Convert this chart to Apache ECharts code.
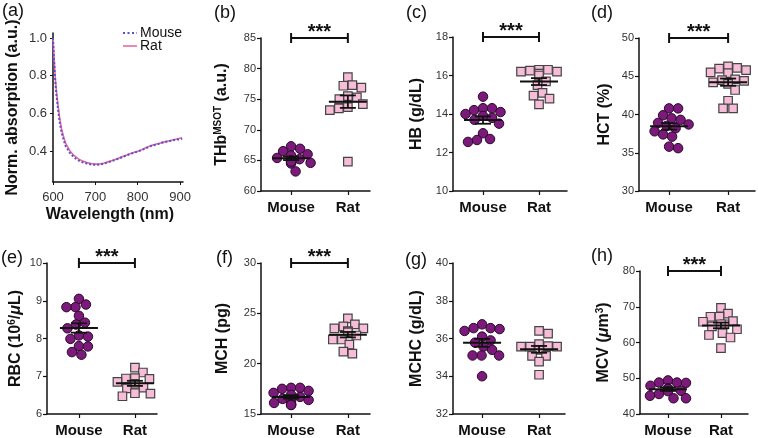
<!DOCTYPE html>
<html><head><meta charset="utf-8">
<script src="https://cdn.jsdelivr.net/npm/echarts@6/dist/echarts.min.js"></script>
<style>html,body{margin:0;padding:0;background:#fff}#c{width:758px;height:438px}</style>
</head><body><div id="c"></div>
<script>
// ---------- DATA ----------
const groups = ['Mouse', 'Rat'];
const wavelengths = [600,602,605,608,612,616,620,625,630,640,650,660,670,680,690,700,710,720,730,740,750,760,770,780,790,800,810,820,830,840,850,860,870,880,890,900,905];
const absMouse = [1.0,0.9,0.78,0.70,0.62,0.55,0.50,0.46,0.425,0.39,0.365,0.35,0.34,0.333,0.328,0.326,0.328,0.333,0.34,0.347,0.355,0.364,0.373,0.382,0.39,0.397,0.405,0.415,0.425,0.432,0.438,0.445,0.45,0.455,0.46,0.462,0.465];
const absRat = [1.0,0.92,0.80,0.72,0.64,0.57,0.52,0.475,0.44,0.40,0.375,0.358,0.346,0.338,0.333,0.33,0.331,0.335,0.342,0.349,0.357,0.366,0.375,0.384,0.392,0.399,0.407,0.418,0.427,0.434,0.44,0.447,0.452,0.457,0.462,0.468,0.47];

const thbMouse = [67.3,66.9,66.5,66.0,65.8,65.4,65.2,65.0,64.9,64.7,64.5,64.8,64.6,63.2];
const thbRat = [78.6,77.3,77.2,76.9,75.5,75.3,75.0,74.2,73.7,73.5,73.2,64.8];
const hbMouse = [14.9,14.3,14.3,14.2,14.1,14.0,13.9,13.8,13.7,13.5,13.0,12.7,12.65,12.55];
const hbRat = [16.3,16.25,16.2,16.2,16.3,16.1,16.0,15.7,15.5,15.1,14.95,14.8,14.5];
const hctMouse = [40.8,40.8,39.9,39.5,39.3,38.9,38.7,38.5,38.2,37.8,37.4,37.1,35.8,35.6];
const hctRat = [46.3,46.1,46.0,45.8,45.5,45.4,44.6,44.5,44.4,44.2,44.0,43.2,41.8,40.8,40.8];
const rbcMouse = [9.05,8.9,8.83,8.83,8.6,8.42,8.37,8.27,8.08,8.05,7.99,7.8,7.79,7.64,7.57];
const rbcRat = [7.23,7.1,6.95,6.94,6.93,6.85,6.8,6.7,6.68,6.55,6.54,6.47];
const mchMouse = [17.6,17.5,17.6,17.3,17.1,16.9,16.7,16.5,16.4,16.3,16.1,16.0,15.9,15.9];
const mchRat = [24.5,23.9,23.7,23.5,23.5,23.2,23.2,23.1,22.8,22.4,22.4,21.9,21.2,21.0];
const mchcMouse = [36.75,36.55,36.55,36.5,36.4,36.1,35.9,35.78,35.57,35.4,35.1,35.1,35.1,34.0];
const mchcRat = [36.4,36.26,35.7,35.6,35.57,35.57,35.57,35.4,35.08,35.08,34.78,34.08];
const mcvMouse = [49.4,48.8,48.8,48.7,47.9,47.2,47.0,46.5,46.4,45.6,45.1,44.4,44.4];
const mcvRat = [69.7,68.1,67.2,67.2,66.0,65.8,65.1,65.1,64.5,63.7,62.6,62.1,61.4,58.4];

const absTicks = [0.4, 0.6, 0.8, 1.0];
const wlTicks = [600, 700, 800, 900];

// ---------- LAYOUT / STYLE ----------
const FONT = '"Liberation Sans", Arial, sans-serif';
const BLACK = '#111';
const MOUSE_C = '#7b1a7b', RAT_C = '#f7bcd8';
const MOUSE_LINE = '#5a4fcf', RAT_LINE = '#e8679f';
const nameRich = {
  a: {fontSize: 16, fontWeight: 'bold', fontFamily: FONT, color: BLACK},
  i: {fontSize: 16, fontWeight: 'bold', fontStyle: 'italic', fontFamily: FONT, color: BLACK},
  s: {fontSize: 10, fontWeight: 'bold', fontFamily: FONT, color: BLACK, verticalAlign: 'top', padding: [0,0,8,0]}
};
const panels = [
  {mouse: thbMouse, rat: thbRat, grid:{left:261, top:38, width:109, height:153}, xr:[0.47,2.39], yr:[60,85,5], name:'{a|THb}{s|MSOT}{a| (a.u.)}', gap:30, sig:true},
  {mouse: hbMouse, rat: hbRat, grid:{left:453, top:37, width:114, height:154}, xr:[0.464,2.5], yr:[10,18,2], name:'{a|HB (g/dL)}', gap:28, sig:true},
  {mouse: hctMouse, rat: hctRat, grid:{left:639, top:38, width:116, height:153}, xr:[0.49,2.456], yr:[30,50,5], name:'{a|HCT (%)}', gap:26, sig:true},
  {mouse: rbcMouse, rat: rbcRat, grid:{left:47, top:263, width:110, height:152}, xr:[0.43,2.394], yr:[6,10,1], name:'{a|RBC (10}{s|6}{a|/}{i|μ}{a|L)}', gap:22, sig:true},
  {mouse: mchMouse, rat: mchRat, grid:{left:261, top:263, width:109, height:152}, xr:[0.47,2.39], yr:[15,30,5], name:'{a|MCH (pg)}', gap:30, sig:true},
  {mouse: mchcMouse, rat: mchcRat, grid:{left:453, top:263, width:112, height:151}, xr:[0.49,2.455], yr:[32,40,2], name:'{a|MCHC (g/dL)}', gap:28, sig:false},
  {mouse: mcvMouse, rat: mcvRat, grid:{left:640, top:271, width:108, height:145}, xr:[0.472,2.51], yr:[40,80,10], name:'{a|MCV (}{i|μ}{a|m}{s|3}{a|)}', gap:27, sig:true}
];
const labelPos = {'(a)':[2,2], '(b)':[214,4], '(c)':[406,4], '(d)':[591,4], '(e)':[1,249], '(f)':[216,249], '(g)':[405,251], '(h)':[591,247]};

function mean(a){return a.reduce((s,v)=>s+v,0)/a.length;}
function sem(a){const m=mean(a);return Math.sqrt(a.reduce((s,v)=>s+(v-m)*(v-m),0)/(a.length-1))/Math.sqrt(a.length);}

const axisLineStyle = {show:true, lineStyle:{color:BLACK, width:1.5}};
const tickLabel = {color:'#333', fontSize:11, fontFamily:FONT};

const grid = [{left:53, top:33, width:130, height:149}];
const xAxis = [{
  type:'value', gridIndex:0, min:600, max:907,
  axisLine:axisLineStyle, splitLine:{show:false},
  axisTick:{show:true, customValues:wlTicks, length:3, lineStyle:{color:BLACK}},
  axisLabel:{customValues:wlTicks, margin:9, color:'#333', fontFamily:FONT, fontSize:13},
  name:'Wavelength (nm)', nameLocation:'middle', nameGap:25,
  nameTextStyle:{fontSize:16, fontWeight:'bold', fontFamily:FONT, color:BLACK, padding:[0,16,0,0]}
}];
const yAxis = [{
  type:'value', gridIndex:0, min:0.235, max:1.027,
  axisLine:axisLineStyle, splitLine:{show:false},
  axisTick:{show:true, customValues:absTicks, length:3, lineStyle:{color:BLACK}},
  axisLabel:{customValues:absTicks, formatter:v=>v.toFixed(1), margin:6, color:'#333', fontSize:13, fontFamily:FONT},
  name:'Norm. absorption (a.u.)', nameLocation:'middle', nameGap:32,
  nameTextStyle:{fontSize:16, fontWeight:'bold', fontFamily:FONT, color:BLACK}
}];
const series = [
  {type:'line', name:'Rat', xAxisIndex:0, yAxisIndex:0, symbol:'none', data:wavelengths.map((w,i)=>[w,absRat[i]]), lineStyle:{color:RAT_LINE, width:1.6}, itemStyle:{color:RAT_LINE}, z:2},
  {type:'line', name:'Mouse', xAxisIndex:0, yAxisIndex:0, symbol:'none', data:wavelengths.map((w,i)=>[w,absMouse[i]]), lineStyle:{color:MOUSE_LINE, width:2, type:'dotted'}, itemStyle:{color:MOUSE_LINE}, z:3}
];

panels.forEach((p, k) => {
  const gi = k + 1;
  grid.push(p.grid);
  xAxis.push({
    type:'value', gridIndex:gi, min:p.xr[0], max:p.xr[1],
    axisLine:axisLineStyle, splitLine:{show:false},
    axisTick:{show:true, customValues:[1,2], length:4, lineStyle:{color:BLACK, width:1.2}},
    axisLabel:{customValues:[1,2], formatter:v=>groups[Math.round(v)-1], margin:9, color:BLACK, fontSize:15, fontWeight:'bold', fontFamily:FONT}
  });
  yAxis.push({
    type:'value', gridIndex:gi, min:p.yr[0], max:p.yr[1], interval:p.yr[2],
    axisLine:axisLineStyle, splitLine:{show:false},
    axisTick:{show:true, length:4, lineStyle:{color:BLACK, width:1.2}},
    axisLabel:Object.assign({margin:5}, tickLabel),
    name:p.name, nameLocation:'middle', nameGap:p.gap,
    nameTextStyle:{rich:nameRich}
  });
  series.push({type:'scatter', xAxisIndex:gi, yAxisIndex:gi, symbol:'circle', symbolSize:9.5,
    data:p.mouse.map(v=>[1,v]), itemStyle:{color:MOUSE_C, borderColor:'#2a0a2a', borderWidth:1, opacity:1}, z:3, id:'m'+gi});
  series.push({type:'scatter', xAxisIndex:gi, yAxisIndex:gi, symbol:'rect', symbolSize:8.5,
    data:p.rat.map(v=>[2,v]), itemStyle:{color:RAT_C, borderColor:'#444', borderWidth:1.2, opacity:1}, z:3, id:'r'+gi});
  series.push({type:'custom', xAxisIndex:gi, yAxisIndex:gi, z:6,
    encode:{x:0, y:1},
    data:[[1, mean(p.mouse), sem(p.mouse)], [2, mean(p.rat), sem(p.rat)]],
    renderItem:(params, api) => {
      const x = api.value(0), m = api.value(1), s = api.value(2);
      const c = api.coord([x, m]), t = api.coord([x, m + s]), b = api.coord([x, m - s]);
      const st = {stroke:BLACK, lineWidth:1.8};
      return {type:'group', children:[
        {type:'line', shape:{x1:c[0]-19, y1:c[1], x2:c[0]+19, y2:c[1]}, style:{stroke:BLACK, lineWidth:2}},
        {type:'line', shape:{x1:c[0], y1:t[1], x2:c[0], y2:b[1]}, style:st},
        {type:'line', shape:{x1:c[0]-8, y1:t[1], x2:c[0]+8, y2:t[1]}, style:st},
        {type:'line', shape:{x1:c[0]-8, y1:b[1], x2:c[0]+8, y2:b[1]}, style:st}
      ]};
    }
  });
  if (p.sig) {
    series.push({type:'custom', xAxisIndex:gi, yAxisIndex:gi, z:6,
      encode:{x:0, y:2},
      data:[[1, 2, p.yr[1]]],
      renderItem:(params, api) => {
        const a = api.coord([api.value(0), api.value(2)]), b = api.coord([api.value(1), api.value(2)]);
        const st = {stroke:BLACK, lineWidth:2};
        return {type:'group', children:[
          {type:'line', shape:{x1:a[0], y1:a[1], x2:b[0], y2:b[1]}, style:st},
          {type:'line', shape:{x1:a[0], y1:a[1]-5, x2:a[0], y2:a[1]+5}, style:st},
          {type:'line', shape:{x1:b[0], y1:b[1]-5, x2:b[0], y2:b[1]+5}, style:st},
          {type:'text', style:{text:'***', x:(a[0]+b[0])/2, y:a[1]-6, align:'center', verticalAlign:'middle', font:'bold 20px ' + FONT, fill:BLACK}}
        ]};
      }
    });
  }
});

const graphic = Object.keys(labelPos).map(k => ({type:'text', left:labelPos[k][0], top:labelPos[k][1],
  style:{text:k, font:'18px ' + FONT, fill:BLACK}}));
// legend of panel (a)
const legendItems = [
  {name:'Mouse', color:MOUSE_LINE, dash:[2,2.5], width:2, y:33},
  {name:'Rat', color:RAT_LINE, dash:null, width:1.6, y:46}
];
legendItems.forEach(it => {
  graphic.push({type:'line', shape:{x1:123, y1:it.y, x2:137, y2:it.y}, style:{stroke:it.color, lineWidth:it.width, lineDash:it.dash}});
  graphic.push({type:'text', x:140, y:it.y, style:{text:it.name, font:'14px ' + FONT, fill:BLACK, verticalAlign:'middle'}});
});

const chart = echarts.init(document.getElementById('c'), null, {renderer:'canvas'});
chart.setOption({
  animation:false, backgroundColor:'#fff', textStyle:{fontFamily:FONT},
  grid, xAxis, yAxis, series, graphic
});

// beeswarm layout of points (pixel space, via the chart's own scales)
function swarm(gi, vals, center, diam) {
  const ys = vals.map(v => chart.convertToPixel({gridIndex:gi}, [center, v])[1]);
  const unit = chart.convertToPixel({gridIndex:gi}, [2, vals[0]])[0] - chart.convertToPixel({gridIndex:gi}, [1, vals[0]])[0];
  const order = ys.map((y,i)=>i).sort((i,j)=>ys[i]-ys[j]);
  const placed = []; const out = new Array(vals.length);
  order.forEach(i => {
    let best = 0;
    for (let step = 0; step < 80; step++) {
      const cand = step === 0 ? 0 : (step % 2 ? 1 : -1) * Math.ceil(step/2) * 0.5;
      const ok = placed.every(q => Math.hypot(q.x - cand, q.y - ys[i]) >= diam);
      if (ok) { best = cand; break; }
    }
    placed.push({x:best, y:ys[i]});
    out[i] = [center + best/unit, vals[i]];
  });
  return out;
}
const upd = [];
panels.forEach((p,k) => {
  const gi = k+1;
  upd.push({id:'m'+gi, data:swarm(gi, p.mouse, 1, 9)});
  upd.push({id:'r'+gi, data:swarm(gi, p.rat, 2, 9)});
});
chart.setOption({series:upd});
</script></body></html>
